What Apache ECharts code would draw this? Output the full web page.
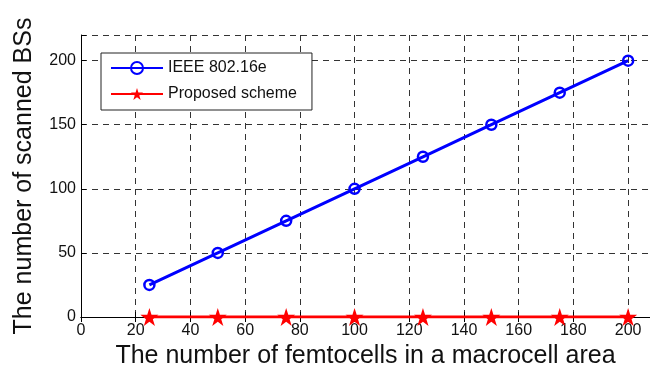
<!DOCTYPE html>
<html><head><meta charset="utf-8">
<script src="https://cdn.jsdelivr.net/npm/echarts@6/dist/echarts.min.js"></script>
<style>html,body{margin:0;padding:0;background:#fff}#c{width:650px;height:369px}</style>
</head><body><div id="c"></div>
<script>
const femtocells = [25, 50, 75, 100, 125, 150, 175, 200];
const ieee = [25, 50, 75, 100, 125, 150, 175, 200];
const proposed = [0, 0, 0, 0, 0, 0, 0, 0];
const seriesNames = ['IEEE 802.16e', 'Proposed scheme'];
const xTitle = 'The number of femtocells in a macrocell area';
const yTitle = 'The number of scanned BSs';

const star = 'path://M50,0 L61.8,35.4 L100,35.4 L69.1,57.3 L80.9,92.7 L50,70.8 L19.1,92.7 L30.9,57.3 L0,35.4 L38.2,35.4 Z';
const font = 'Liberation Sans, Arial, Helvetica, sans-serif';
const txt = '#111';

const chart = echarts.init(document.getElementById('c'));
chart.setOption({
  animation: false,
  backgroundColor: '#fff',
  grid: { left: 81, top: 35, right: 0, bottom: 52, containLabel: false, outerBoundsMode: 'none' },
  legend: {
    orient: 'vertical', left: 101, top: 53,
    backgroundColor: '#fff', borderColor: '#222', borderWidth: 1,
    padding: [7, 15, 8, 9], itemGap: 10, itemWidth: 52, itemHeight: 15,
    textStyle: { fontFamily: font, fontSize: 16, color: txt },
    data: seriesNames
  },
  xAxis: [{
    type: 'value', min: 0, max: 208, interval: 20,
    name: xTitle, nameLocation: 'middle', nameGap: 27,
    nameTextStyle: { fontFamily: font, fontSize: 25, color: txt },
    axisLine: { onZero: false, lineStyle: { color: '#000', width: 1 } },
    axisTick: { inside: true, length: 5, lineStyle: { color: '#000' } },
    axisLabel: { fontFamily: font, fontSize: 16, color: txt, margin: 6,
      formatter: v => (v % 20 === 0 && v <= 200) ? String(v) : '' },
    splitLine: { show: true, lineStyle: { color: '#333', type: [6, 5], width: 1 } }
  }, {
    type: 'value', min: 0, max: 208, interval: 20, position: 'top',
    axisLine: { show: true, lineStyle: { color: '#000', width: 1 } },
    axisTick: { show: true, inside: true, length: 5, lineStyle: { color: '#000' } },
    axisLabel: { show: false }, splitLine: { show: false }
  }],
  yAxis: {
    type: 'value', min: 0, max: 220, interval: 50,
    name: yTitle, nameLocation: 'middle', nameGap: 44,
    nameTextStyle: { fontFamily: font, fontSize: 25, color: txt },
    axisLine: { show: true, lineStyle: { color: '#000', width: 1 } },
    axisTick: { show: true, inside: true, length: 5, lineStyle: { color: '#000' } },
    axisLabel: { fontFamily: font, fontSize: 16, color: txt, margin: 5,
      formatter: v => (v % 50 === 0 && v <= 200) ? String(v) : '' },
    splitLine: { show: true, lineStyle: { color: '#333', type: [6, 5], width: 1 } }
  },
  series: [{
    name: seriesNames[0], type: 'line',
    data: femtocells.map((x, i) => [x, ieee[i]]),
    symbol: 'circle', symbolSize: 10,
    lineStyle: { color: '#0000ff', width: 3 },
    itemStyle: { color: 'rgba(0,0,0,0)', borderColor: '#0000ff', borderWidth: 2.5 },
    z: 3
  }, {
    name: seriesNames[1], type: 'line',
    data: femtocells.map((x, i) => [x, proposed[i]]),
    symbol: star, symbolSize: 18,
    lineStyle: { color: '#ff0000', width: 3 },
    itemStyle: { color: '#ff0000', borderColor: '#ff0000', borderWidth: 0 },
    z: 4
  }]
});
</script></body></html>
